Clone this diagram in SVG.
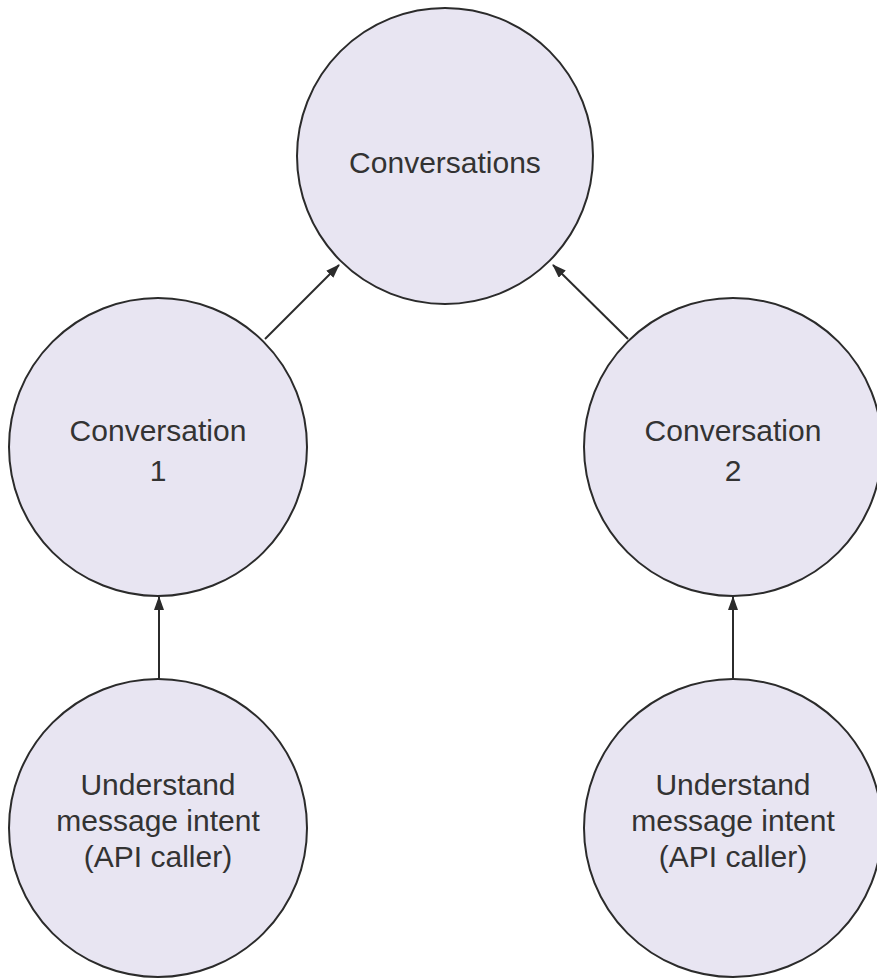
<svg xmlns="http://www.w3.org/2000/svg" width="877" height="978" viewBox="0 0 877 978">
  <style>
    .node circle { fill: #e8e5f2; stroke: #2b2b2b; stroke-width: 2; }
    .node text { font-family: "Liberation Sans", Arial, sans-serif; font-size: 30px; fill: #333333; text-anchor: middle; }
    .edge { stroke: #2b2b2b; stroke-width: 2; fill: none; marker-end: url(#arrow); }
  </style>
  <defs>
    <marker id="arrow" markerWidth="14" markerHeight="10" refX="13" refY="5" orient="auto" markerUnits="userSpaceOnUse">
      <path d="M0,0 L14,5 L0,10 Z" fill="#2b2b2b"/>
    </marker>
  </defs>
  <rect width="877" height="978" fill="#ffffff"/>

  <g id="conversations" class="node">
    <circle cx="445" cy="156" r="148"/>
    <text x="445" y="173">Conversations</text>
  </g>

  <g id="conversation-1" class="node">
    <circle cx="158" cy="447" r="149"/>
    <text x="158" y="441">Conversation</text>
    <text x="158" y="481">1</text>
  </g>

  <g id="conversation-2" class="node">
    <circle cx="733" cy="447" r="149"/>
    <text x="733" y="441">Conversation</text>
    <text x="733" y="481">2</text>
  </g>

  <g id="intent-1" class="node">
    <circle cx="158" cy="828" r="149"/>
    <text x="158" y="795">Understand</text>
    <text x="158" y="831">message intent</text>
    <text x="158" y="867">(API caller)</text>
  </g>

  <g id="intent-2" class="node">
    <circle cx="733" cy="828" r="149"/>
    <text x="733" y="795">Understand</text>
    <text x="733" y="831">message intent</text>
    <text x="733" y="867">(API caller)</text>
  </g>

  <g id="connectors">
    <line class="edge" x1="265" y1="339" x2="339" y2="265"/>
    <line class="edge" x1="628" y1="339" x2="553" y2="265"/>
    <line class="edge" x1="159" y1="679" x2="159" y2="597"/>
    <line class="edge" x1="733" y1="679" x2="733" y2="597"/>
  </g>
</svg>
